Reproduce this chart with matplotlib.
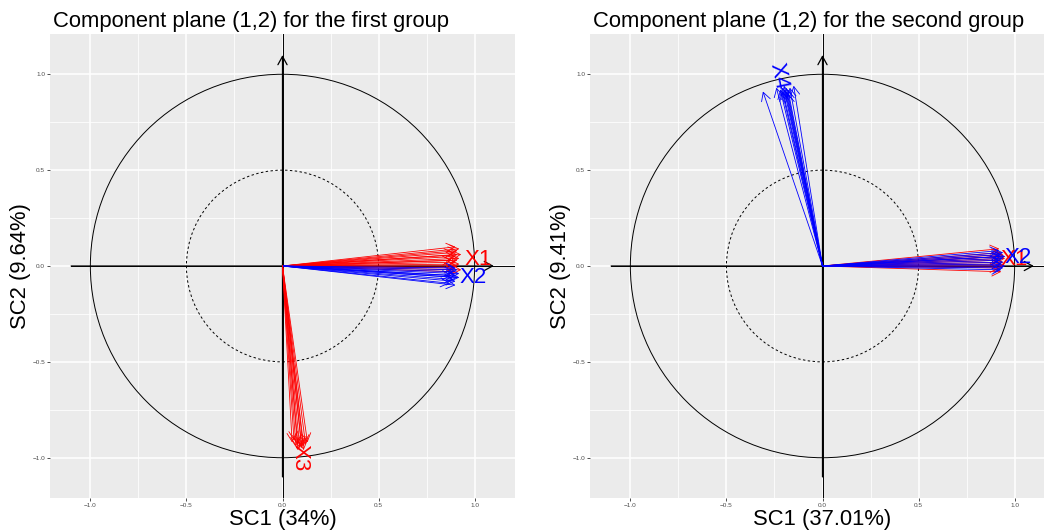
import numpy as np
import matplotlib
matplotlib.use("Agg")
import matplotlib.pyplot as plt
from matplotlib.patches import Circle

plt.rcParams['font.family'] = ['Liberation Sans', 'DejaVu Sans']

# ---------------- data ----------------
titles = ["Component plane (1,2) for the first group",
          "Component plane (1,2) for the second group"]
xlabels = ["SC1 (34%)", "SC1 (37.01%)"]
ylabels = ["SC2 (9.64%)", "SC2 (9.41%)"]
ticks = [-1.0, -0.5, 0.0, 0.5, 1.0]
tick_labels = ["\u22121.0", "\u22120.5", "0.0", "0.5", "1.0"]

# first group
g1_x1_x = [0.90, 0.92, 0.91, 0.89, 0.93, 0.90, 0.92, 0.91, 0.88, 0.90, 0.92, 0.91, 0.89, 0.93, 0.90, 0.91]
g1_x1_y = [0.10, 0.09, 0.08, 0.07, 0.06, 0.05, 0.04, 0.03, 0.03, 0.02, 0.01, 0.00, -0.01, -0.02, -0.03, 0.06]
g1_x2_x = [0.90, 0.91, 0.89, 0.92, 0.90, 0.88, 0.91, 0.89, 0.90, 0.87, 0.92, 0.90]
g1_x2_y = [-0.01, -0.02, -0.03, -0.04, -0.05, -0.05, -0.06, -0.07, -0.08, -0.09, -0.06, -0.10]
g1_x3_x = [0.05, 0.07, 0.08, 0.09, 0.10, 0.11, 0.12, 0.13, 0.08, 0.10, 0.06, 0.11]
g1_x3_y = [-0.92, -0.94, -0.93, -0.95, -0.94, -0.96, -0.93, -0.92, -0.96, -0.95, -0.91, -0.94]

# second group
g2_x1_x = [0.92, 0.93, 0.94, 0.93, 0.95, 0.92, 0.94, 0.93, 0.94, 0.92, 0.93, 0.95]
g2_x1_y = [0.09, 0.07, 0.06, 0.05, 0.04, 0.03, 0.02, 0.01, 0.00, -0.01, -0.03, 0.05]
g2_x2_x = [0.92, 0.94, 0.93, 0.95, 0.93, 0.94, 0.92, 0.94, 0.93, 0.95, 0.94, 0.93]
g2_x2_y = [0.08, 0.07, 0.06, 0.05, 0.05, 0.04, 0.03, 0.02, 0.01, 0.00, -0.01, -0.02]
g2_x4_x = [-0.31, -0.24, -0.22, -0.21, -0.20, -0.19, -0.18, -0.17, -0.21, -0.19, -0.15, -0.20, -0.18]
g2_x4_y = [0.91, 0.93, 0.92, 0.93, 0.92, 0.93, 0.92, 0.93, 0.91, 0.91, 0.94, 0.94, 0.90]

# labels: (text, x, y, color, rotation)
g1_labels = [("X1", 1.02, 0.035, "red", 0), ("X2", 0.99, -0.06, "blue", 0), ("X3", 0.09, -1.0, "red", -90)]
g2_labels = [("X1", 1.0, 0.035, "red", 0), ("X2", 1.02, 0.045, "blue", 0), ("X4", -0.23, 0.99, "blue", -78)]

groups = [
    ([(g1_x1_x, g1_x1_y, "red"), (g1_x2_x, g1_x2_y, "blue"), (g1_x3_x, g1_x3_y, "red")], g1_labels),
    ([(g2_x1_x, g2_x1_y, "red"), (g2_x2_x, g2_x2_y, "blue"), (g2_x4_x, g2_x4_y, "blue")], g2_labels),
]

# ---------------- figure ----------------
W, H = 1044, 531
fig = plt.figure(figsize=(W / 100, H / 100), dpi=100)
panel_w = (515 - 50) / W
panel_h = (498 - 34) / H
lefts = [50 / W, 590 / W]
bottom = 1 - 498 / H
lim = 1.21

arrow_style = "->,head_length=0.6,head_width=0.33"

for i in range(2):
    ax = fig.add_axes([lefts[i], bottom, panel_w, panel_h])
    ax.set_facecolor("#EBEBEB")
    ax.set_xlim(-lim, lim)
    ax.set_ylim(-lim, lim)
    for s in ax.spines.values():
        s.set_visible(False)
    # grid
    for m in [-0.75, -0.25, 0.25, 0.75]:
        ax.axvline(m, color="white", lw=0.55, zorder=0)
        ax.axhline(m, color="white", lw=0.55, zorder=0)
    for t in ticks:
        ax.axvline(t, color="white", lw=1.1, zorder=0)
        ax.axhline(t, color="white", lw=1.1, zorder=0)
    ax.set_xticks(ticks)
    ax.set_yticks(ticks)
    ax.set_xticklabels(tick_labels)
    ax.set_yticklabels(tick_labels)
    ax.tick_params(length=2, width=0.6, color="#333333", labelsize=4.6,
                   labelcolor="#4D4D4D", pad=1.5)
    # reference lines
    ax.plot([-1.1, lim], [0, 0], color="black", lw=0.7, zorder=2)
    ax.plot([0, 0], [-lim, lim], color="black", lw=0.7, zorder=2)
    ax.annotate("", xy=(1.1, 0), xytext=(-1.1, 0),
                arrowprops=dict(arrowstyle=arrow_style, color="black", lw=0.9,
                                shrinkA=0, shrinkB=0), zorder=3)
    ax.annotate("", xy=(0, 1.1), xytext=(0, -1.1),
                arrowprops=dict(arrowstyle=arrow_style, color="black", lw=0.9,
                                shrinkA=0, shrinkB=0), zorder=3)
    # circles
    ax.add_patch(Circle((0, 0), 1.0, fill=False, color="black", lw=0.7, zorder=2))
    ax.add_patch(Circle((0, 0), 0.5, fill=False, color="black", lw=0.7,
                        linestyle=(0, (2.5, 2.5)), zorder=2))
    # variable arrows
    series, labels = groups[i]
    for xs, ys, col in series:
        for x, y in zip(xs, ys):
            ax.annotate("", xy=(x, y), xytext=(0, 0),
                        arrowprops=dict(arrowstyle=arrow_style, color=col, lw=0.6,
                                        shrinkA=0, shrinkB=0), zorder=4)
    for txt, x, y, col, rot in labels:
        ax.text(x, y, txt, color=col, fontsize=16, rotation=rot,
                ha="center", va="center", zorder=5, rotation_mode="anchor")
    ax.set_title(titles[i], loc="left", fontsize=15.8, pad=5, x=0.006)
    ax.set_xlabel(xlabels[i], fontsize=15.8, labelpad=1)
    ax.set_ylabel(ylabels[i], fontsize=15.8, labelpad=1)

fig.savefig("out.png", dpi=100)
